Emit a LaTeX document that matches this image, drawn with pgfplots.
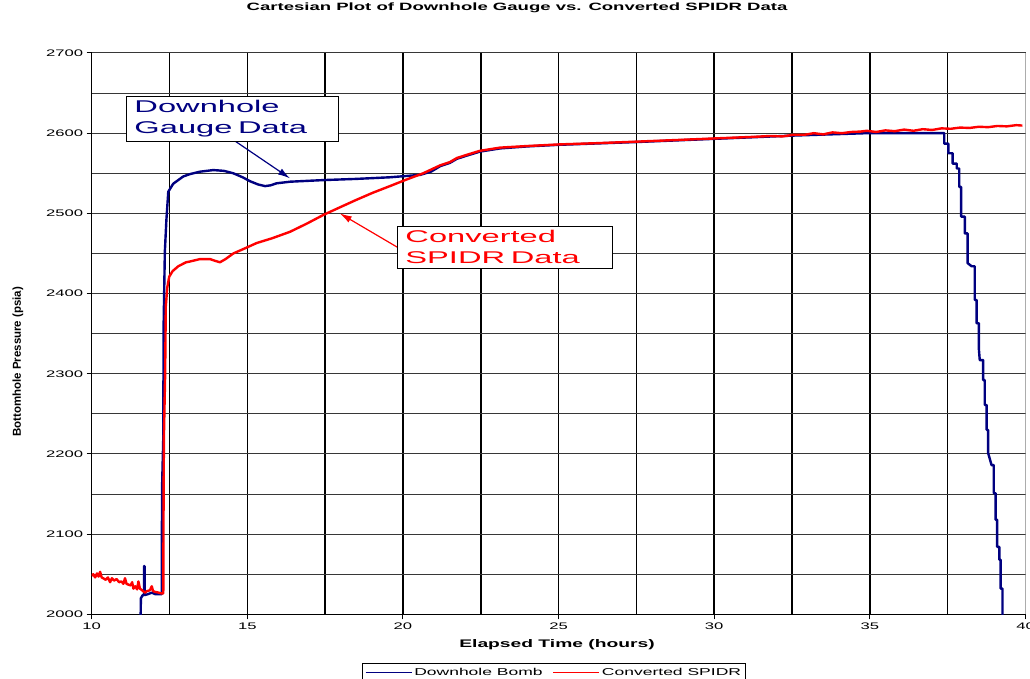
\documentclass[border=0pt]{standalone}
\usepackage{fontspec}
\setmainfont{Liberation Sans}
\newfontfamily\widefont{Liberation Sans}[FakeStretch=1.75]
\newfontfamily\annofont{Liberation Sans}[FakeStretch=1.92]
\usepackage{pgfplots}
\pgfplotsset{compat=1.18}
\usetikzlibrary{arrows.meta}

\definecolor{navy}{RGB}{0,0,128}
\definecolor{gridgray}{RGB}{55,55,55}

\begin{document}
\begin{tikzpicture}
\useasboundingbox (-91.7pt,-64.7pt) rectangle (938.3pt,614.3pt);
\begin{axis}[
    scale only axis,
    width=933.8pt, height=561.3pt,
    xmin=10, xmax=40,
    ymin=2000, ymax=2700,
    axis x line*=bottom, axis y line*=left,
    axis line style={-, black, line width=1.4pt},
    xtick={10,15,...,35},
    extra x ticks={40},
    extra x tick style={grid=none},
    minor xtick={12.5,17.5,...,37.5},
    ytick={2000,2100,...,2700},
    minor ytick={2050,2150,...,2650},
    grid=both,
    major x grid style={black, line width=1.6pt},
    minor x grid style={black, line width=1.6pt},
    major y grid style={gridgray, line width=1pt},
    minor y grid style={gridgray, line width=1pt},
    tick align=outside,
    major tick length=5pt,
    minor tick length=0pt,
    tick style={black, line width=1pt},
    /pgf/number format/.cd, set thousands separator={}, assume math mode=true,
    /pgfplots/.cd,
    tick label style={font=\widefont\fontsize{9.5}{11}\selectfont},
    title={Cartesian Plot of Downhole Gauge vs. Converted SPIDR Data},
    title style={font=\widefont\bfseries\fontsize{10.6}{13}\selectfont,
        at={(axis description cs:0.4555,1.0695)}, anchor=center},
    xlabel={Elapsed Time (hours)},
    xlabel style={font=\widefont\bfseries\fontsize{11}{13}\selectfont,
        at={(axis description cs:0.4983,-0.0547)}, anchor=center},
    ylabel={Bottomhole Pressure (psia)},
    ylabel style={font=\bfseries\fontsize{11.5}{13}\selectfont,
        at={(axis description cs:-0.0789,0.4497)}, anchor=center},
    legend columns=2,
    legend style={at={(axis description cs:0.4951,-0.0873)}, anchor=north,
        draw=black, line width=1pt, font=\widefont\fontsize{10}{12}\selectfont,
        inner sep=2pt,
        /tikz/every even column/.append style={column sep=8pt}},
    legend image code/.code={\draw[#1, line width=1.3pt] (0pt,0pt) -- (46pt,0pt);},
]
% Downhole Bomb
\addplot[navy, line width=2.4pt, line join=round] coordinates {
(11.57,1990) (11.58,2020) (11.64,2024) (11.68,2024) (11.68,2060) (11.70,2060)
(11.70,2024) (11.80,2025) (11.93,2027) (12.05,2025) (12.25,2025) (12.26,2157)
(12.30,2221) (12.31,2359) (12.35,2452) (12.40,2492) (12.46,2527) (12.62,2537)
(12.94,2546) (13.16,2549) (13.48,2552) (13.91,2554) (14.25,2553) (14.55,2550)
(14.85,2545) (15.09,2540) (15.35,2536) (15.57,2534) (15.75,2535) (15.94,2537.5)
(16.38,2539.5) (17.44,2541.5) (18.51,2543) (19.58,2545) (20.55,2548) (20.90,2552)
(21.20,2559) (21.51,2563) (21.73,2568) (22.05,2572) (22.47,2577) (23.12,2581)
(24.00,2583.5) (25.02,2585.5) (27.53,2589) (30.04,2593) (32.54,2597) (34.90,2600)
(36.34,2600) (37.30,2600) (37.39,2600) (37.39,2587) (37.52,2587) (37.52,2575)
(37.66,2575) (37.66,2562) (37.79,2562) (37.79,2556) (37.87,2556) (37.87,2533)
(37.93,2533) (37.93,2496) (38.05,2496) (38.05,2475) (38.14,2475) (38.14,2438)
(38.27,2434) (38.37,2434) (38.37,2392) (38.43,2392) (38.43,2363) (38.50,2363)
(38.50,2332) (38.53,2317) (38.64,2317) (38.64,2292) (38.69,2292) (38.69,2261)
(38.75,2261) (38.75,2230) (38.80,2230) (38.80,2201) (38.91,2186) (38.98,2186)
(38.98,2151) (39.04,2151) (39.04,2118) (39.09,2118) (39.09,2084) (39.16,2084)
(39.16,2068) (39.20,2068) (39.20,2032) (39.26,2032) (39.26,1990)
};
\addlegendentry{Downhole Bomb}
% Converted SPIDR
\addplot[red, line width=2.4pt, line join=round] coordinates {
(10.00,2048) (10.05,2050) (10.11,2046) (10.17,2051) (10.22,2047) (10.27,2053)
(10.32,2046) (10.37,2045) (10.45,2043) (10.52,2046) (10.59,2040) (10.65,2045)
(10.72,2042) (10.80,2044) (10.88,2040) (10.95,2041) (11.02,2038) (11.07,2045)
(11.12,2038) (11.18,2037) (11.25,2036) (11.30,2040) (11.34,2032) (11.40,2035)
(11.46,2031) (11.50,2041) (11.55,2032) (11.62,2030) (11.71,2027) (11.78,2029)
(11.87,2030) (11.93,2035) (11.97,2029) (12.03,2028) (12.15,2027) (12.25,2026)
(12.30,2026) (12.31,2150) (12.32,2221) (12.36,2300) (12.38,2384) (12.43,2408)
(12.49,2421) (12.60,2428) (12.78,2434) (13.03,2439) (13.16,2440) (13.48,2443)
(13.80,2443) (13.95,2441) (14.12,2439) (14.30,2443) (14.55,2450) (14.90,2456)
(15.30,2463) (15.80,2469) (16.37,2477) (16.90,2487) (17.44,2498) (18.00,2508)
(18.51,2517) (19.05,2526) (19.58,2534) (20.10,2542) (20.65,2550) (21.20,2560)
(21.51,2564) (21.73,2569) (22.05,2573) (22.47,2578) (23.12,2582) (24.00,2584)
(25.02,2586) (26.20,2587.5) (27.53,2589.5) (28.80,2591.5) (30.04,2593.5)
(31.30,2595.5) (31.80,2596.5) (32.20,2596) (32.54,2598) (32.90,2598) (33.20,2600)
(33.50,2598.5) (33.80,2601) (34.10,2600) (34.40,2601.5) (34.70,2602) (34.90,2603)
(35.20,2601.5) (35.50,2603.5) (35.80,2602.5) (36.10,2604.5) (36.40,2603)
(36.70,2605) (37.00,2604) (37.30,2606) (37.60,2605.5) (37.90,2607) (38.20,2606.5)
(38.50,2608) (38.80,2607.5) (39.10,2609) (39.40,2608.5) (39.70,2610) (39.90,2609.5)
};
\addlegendentry{Converted SPIDR}
% right border of the plot area
\draw[gray, line width=1pt] (rel axis cs:1,0) -- (rel axis cs:1,1);
% callouts
\draw[navy, line width=1.2pt, -{Latex[length=12pt,width=7pt]}]
    (axis cs:14.60,2590.3) -- (axis cs:16.37,2543.7);
\draw[red, line width=1.2pt, -{Latex[length=12pt,width=7pt]}]
    (axis cs:19.81,2458) -- (axis cs:17.97,2500);
\node[draw=black, line width=0.8pt, fill=white, text=navy, align=left,
      minimum width=212pt, minimum height=45pt, text width=195pt, inner sep=0pt,
      font=\annofont\fontsize{17}{21.5}\selectfont]
    at (axis cs:14.507,2618.3) {Downhole\\Gauge Data};
\node[draw=black, line width=0.8pt, fill=white, text=red, align=left,
      minimum width=215pt, minimum height=42pt, text width=198pt, inner sep=0pt,
      font=\annofont\fontsize{17}{21.5}\selectfont]
    at (axis cs:23.26,2458) {Converted\\SPIDR Data};
\end{axis}
\end{tikzpicture}
\end{document}
